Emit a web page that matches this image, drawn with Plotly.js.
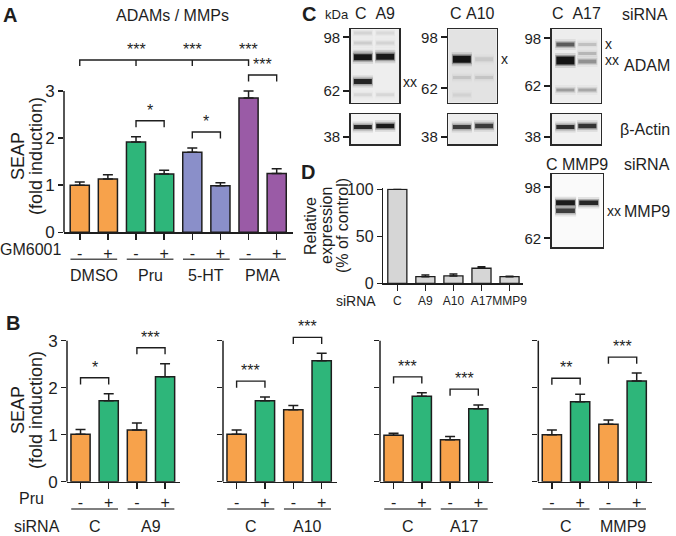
<!DOCTYPE html>
<html>
<head>
<meta charset="utf-8">
<script src="https://cdn.plot.ly/plotly-3.0.1.min.js"></script>
<style>
  body { margin: 0; background: #fff; }
  #chart { width: 676px; height: 536px; }
</style>
</head>
<body>
<div id="chart"></div>
<script>
// ---- Panel A: GM6001 inhibitor, SEAP fold induction ----
const gmSign = ['-', '+', '-', '+', '-', '+', '-', '+'];
const aGroups = ['DMSO', 'Pru', '5-HT', 'PMA'];
const aSeap = [1.00, 1.13, 1.92, 1.24, 1.70, 0.99, 2.85, 1.25];
const aErr = [0.07, 0.09, 0.11, 0.08, 0.09, 0.06, 0.15, 0.10];
const aPairStars = ['', '*', '*', '***'];       // within-group comparison
const aVsDmsoStars = ['', '***', '***', '***'];  // "-" bar vs DMSO "-"

// ---- Panel B: siRNA knock-down, Pru -/+ ----
const pruSign = ['-', '+', '-', '+'];
const bSiRNA = [['C', 'A9'], ['C', 'A10'], ['C', 'A17'], ['C', 'MMP9']];
const bSeap = [
  [1.01, 1.72, 1.10, 2.23],
  [1.01, 1.72, 1.53, 2.57],
  [0.99, 1.82, 0.89, 1.55],
  [1.00, 1.70, 1.22, 2.14]
];
const bErr = [
  [0.10, 0.15, 0.15, 0.28],
  [0.09, 0.08, 0.09, 0.16],
  [0.04, 0.07, 0.07, 0.08],
  [0.10, 0.16, 0.09, 0.17]
];
const bStars = [['*', '***'], ['***', '***'], ['***', '***'], ['**', '***']];

// ---- Panel D: relative expression after knock-down ----
const dSiRNA = ['C', 'A9', 'A10', 'A17', 'MMP9'];
const dExpr = [100, 7.0, 7.8, 16.0, 7.0];
const dErr = [0, 1.8, 2.0, 1.7, 0.4];

// ---- Panel C: western blot bands (lane index, kDa, darkness 0-1, thickness px) ----
const a9Lane = [0, 0, 0, 0, 0, 0, 1, 1, 1, 1, 1];
const a9Kda = [101.7, 93.3, 86.4, 82.6, 67.0, 59.8, 101.7, 93.3, 86.4, 83.0, 59.8];
const a9Tone = [0.08, 0.10, 0.07, 0.95, 0.85, 0.07, 0.06, 0.08, 0.06, 0.92, 0.07];
const a9Thick = [3, 3, 3, 6, 5, 3, 3, 3, 3, 6, 3];

const a10Lane = [0, 0, 0, 1, 1];
const a10Kda = [80.4, 68.4, 58.4, 80.4, 68.4];
const a10Tone = [0.97, 0.10, 0.05, 0.08, 0.10];
const a10Thick = [7, 3, 3, 4, 3];

const a17Lane = [0, 0, 0, 1, 1, 1, 1];
const a17Kda = [92.4, 79.2, 59.5, 92.4, 84.6, 78.4, 59.5];
const a17Tone = [0.55, 0.97, 0.28, 0.14, 0.18, 0.32, 0.24];
const a17Thick = [4, 8, 3, 3, 3, 4, 3];

const actinLane = [0, 1];
const actinKda = [42, 42.4];
const actin9Tone = [0.85, 0.92];
const actin10Tone = [0.72, 0.72];
const actin17Tone = [0.8, 0.76];
const actinThick = [4, 4.5];

const mmpLane = [0, 0, 1];
const mmpKda = [85.3, 79.4, 85.3];
const mmpTone = [0.92, 0.72, 0.85];
const mmpThick = [5, 4.5, 4.5];

// ---- page geometry helpers ----
const W = 676, H = 536;
const px = v => v / W;
const py = v => 1 - v / H;
const FONT = 'Liberation Sans, Arial, Helvetica, sans-serif';
const INK = '#1e1e1e';
const ORANGE = '#F7A24B';
const GREEN = '#2EB67A';
const groupColor = { DMSO: ORANGE, Pru: GREEN, '5-HT': '#8A8FC9', PMA: '#9A5BA6' };
const BAR_W = 0.68;

const traces = [];
const annotations = [];
const shapes = [];
const layout = {
  width: W, height: H,
  margin: { l: 0, r: 0, t: 0, b: 0 },
  paper_bgcolor: '#fff', plot_bgcolor: 'rgba(0,0,0,0)',
  font: { family: FONT, color: INK, size: 16 },
  showlegend: false,
  bargap: 0
};

function barAxes(n, xDom, yDom, xRange, yRange, tickText, showLabels) {
  const s = n === 1 ? '' : n;
  layout['xaxis' + s] = {
    domain: xDom, range: xRange, anchor: 'y' + s,
    tickvals: tickText.map((_, i) => i), ticktext: tickText, tickangle: 0,
    ticks: 'outside', ticklen: 6, tickwidth: 1.5, tickcolor: INK,
    showline: true, linewidth: 1.5, linecolor: INK,
    showgrid: false, zeroline: false, tickfont: { size: 16 }, fixedrange: true
  };
  layout['yaxis' + s] = {
    domain: yDom, range: yRange, anchor: 'x' + s,
    tickvals: [0, 1, 2, 3], showticklabels: showLabels,
    ticks: 'outside', ticklen: 5, tickwidth: 1.5, tickcolor: INK,
    showline: false, showgrid: false, zeroline: false,
    tickfont: { size: 17 }, fixedrange: true
  };
  // y axis line only from 0 to 3, like the original
  shapes.push({ type: 'line', xref: 'x' + s + ' domain', yref: 'y' + s, x0: 0, x1: 0, y0: 0, y1: 3,
    line: { color: INK, width: 1.5 } });
}

function bracket(s, i, j, low, high) {
  traces.push({ type: 'scatter', mode: 'lines', xaxis: 'x' + s, yaxis: 'y' + s,
    x: [i, i, j, j], y: [low, high, high, low],
    line: { color: INK, width: 1.4 }, hoverinfo: 'skip' });
}

function stars(s, x, y, text) {
  annotations.push({ xref: 'x' + s, yref: 'y' + s, x: x, y: y, text: text, showarrow: false,
    xanchor: 'center', yanchor: 'bottom', font: { size: 16 } });
}

function bars(s, values, errs, colors, lineW) {
  traces.push({
    type: 'bar', xaxis: 'x' + s, yaxis: 'y' + s,
    x: values.map((_, i) => i), y: values, width: BAR_W,
    marker: { color: colors, line: { color: INK, width: lineW } },
    error_y: { type: 'data', symmetric: false, array: errs, arrayminus: errs.map(() => 0),
      color: INK, thickness: 1.5, width: 5 },
    hoverinfo: 'skip'
  });
}

function groupLabels(s, names, lineY, labelY) {
  names.forEach((name, g) => {
    shapes.push({ type: 'line', xref: 'x' + s, yref: 'paper',
      x0: 2 * g - 0.33, x1: 2 * g + 1.33, y0: py(lineY), y1: py(lineY),
      line: { color: '#555', width: 1.5 } });
    annotations.push({ xref: 'x' + s, yref: 'paper', x: 2 * g + 0.5, y: py(labelY),
      xanchor: 'center', yanchor: 'middle', text: name, showarrow: false, font: { size: 16 } });
  });
}

// ================= Panel A =================
barAxes(1, [px(64), px(293)], [py(232.3), py(55.7)], [-0.56, 7.58], [0, 3.75], gmSign, true);
bars('', aSeap, aErr, aSeap.map((_, i) => groupColor[aGroups[Math.floor(i / 2)]]), 1.5);
const aTop = aSeap.map((v, i) => v + aErr[i]);
aGroups.forEach((g, k) => {
  if (!aPairStars[k]) return;
  const i = 2 * k, j = 2 * k + 1;
  const low = Math.max(aTop[i], aTop[j]) + 0.2;
  bracket('', i, j, low, low + 0.14);
  stars('', i + 0.5, low + 0.14, aPairStars[k]);
});
// comparison of every "-" bar with DMSO "-"
const aLevel = 3.66;
traces.push({ type: 'scatter', mode: 'lines', xaxis: 'x', yaxis: 'y',
  x: [0, 0, 6, 6, null, 2, 2, null, 4, 4],
  y: [aLevel - 0.13, aLevel, aLevel, aLevel - 0.13, null, aLevel, aLevel - 0.13, null, aLevel, aLevel - 0.13],
  line: { color: INK, width: 1.4 }, hoverinfo: 'skip' });
aVsDmsoStars.forEach((t, k) => { if (t) stars('', 2 * k, aLevel, t); });
groupLabels('', aGroups, 259.3, 275);

// ================= Panel B =================
const bX = [[67, 180], [223, 336.7], [380, 493.3], [538.3, 651.7]];
bSeap.forEach((vals, p) => {
  const n = p + 2, s = String(n);
  barAxes(n, [px(bX[p][0]), px(bX[p][1])], [py(481.7), py(324.2)], [-0.48, 3.53], [0, 3.35], pruSign, p === 0);
  bars(s, vals, bErr[p], vals.map((_, i) => (i % 2 ? GREEN : ORANGE)), 1.5);
  [0, 1].forEach(k => {
    const i = 2 * k, j = 2 * k + 1;
    const low = Math.max(vals[i] + bErr[p][i], vals[j] + bErr[p][j]) + 0.2;
    bracket(s, i, j, low, low + 0.14);
    stars(s, i + 0.5, low + 0.14, bStars[p][k]);
  });
  groupLabels(s, bSiRNA[p], 509, 526);
});

// ================= Panel D =================
layout.xaxis6 = {
  domain: [px(383.3), px(523)], range: [-0.5, 4.48], anchor: 'y6',
  tickvals: dSiRNA.map((_, i) => i), ticktext: dSiRNA, tickangle: 0,
  ticks: 'outside', ticklen: 6, tickwidth: 1.5, tickcolor: INK,
  showline: true, linewidth: 1.5, linecolor: INK, showgrid: false, zeroline: false,
  tickfont: { size: 12 }, fixedrange: true
};
layout.yaxis6 = {
  domain: [py(283.3), py(188.4)], range: [0, 101], anchor: 'x6',
  tickvals: [0, 50, 100], ticks: 'outside', ticklen: 5, tickwidth: 1.5, tickcolor: INK,
  showline: true, linewidth: 1.5, linecolor: INK, showgrid: false, zeroline: false,
  tickfont: { size: 16 }, fixedrange: true
};
traces.push({
  type: 'bar', xaxis: 'x6', yaxis: 'y6', x: dSiRNA.map((_, i) => i), y: dExpr, width: BAR_W,
  marker: { color: '#D6D6D6', line: { color: INK, width: 1.3 } },
  error_y: { type: 'data', symmetric: false, array: dErr, arrayminus: dErr.map(() => 0),
    color: INK, thickness: 1.5, width: 4 },
  hoverinfo: 'skip'
});

// ================= Panel C: blots =================
function blot(n, xDom, yDom, kdaRange, laneX, lane, kda, tone, thick, bg, kdaTicks) {
  layout['xaxis' + n] = {
    domain: [px(xDom[0]), px(xDom[1])], range: [0, 2], anchor: 'y' + n,
    showline: true, mirror: true, linewidth: 1.5, linecolor: '#2a2a2a',
    ticks: '', showticklabels: false, showgrid: false, zeroline: false, fixedrange: true
  };
  layout['yaxis' + n] = {
    domain: [py(yDom[1]), py(yDom[0])], type: 'log', anchor: 'x' + n,
    range: [Math.log10(kdaRange[0]), Math.log10(kdaRange[1])],
    tickvals: kdaTicks, ticktext: kdaTicks.map(String),
    ticks: 'outside', ticklen: 6, tickwidth: 2, tickcolor: INK,
    showline: true, mirror: true, linewidth: 1.5, linecolor: '#2a2a2a',
    showgrid: false, zeroline: false, tickfont: { size: 15 }, fixedrange: true
  };
  shapes.push({ type: 'rect', xref: 'x' + n + ' domain', yref: 'y' + n + ' domain',
    x0: 0, x1: 1, y0: 0, y1: 1, fillcolor: bg, line: { width: 0 }, layer: 'below' });
  kda.forEach((k, i) => {
    const c = laneX[lane[i]];
    // soft halo layers, then the dense core of the band
    [[thick[i] + 7, tone[i] * 0.12, 0.42], [thick[i] + 3, tone[i] * 0.3, 0.41], [thick[i], tone[i], 0.37]]
      .forEach(([w, a, hw]) => {
        traces.push({ type: 'scatter', mode: 'lines', xaxis: 'x' + n, yaxis: 'y' + n,
          x: [c - hw, c + hw], y: [k, k],
          line: { color: 'rgba(15,15,15,' + a.toFixed(3) + ')', width: w }, hoverinfo: 'skip' });
      });
  });
}

blot(7, [350.7, 399.3], [29.3, 102.7], [55.9, 105], [0.5, 1.42], a9Lane, a9Kda, a9Tone, a9Thick, '#eeeeee', [62, 98]);
blot(8, [448.3, 496.7], [29.3, 102.7], [54.5, 105.3], [0.56, 1.48], a10Lane, a10Kda, a10Tone, a10Thick, '#e3e3e3', [62, 98]);
blot(9, [551.7, 600.5], [29.3, 102.7], [52.6, 107], [0.56, 1.46], a17Lane, a17Kda, a17Tone, a17Thick, '#ededed', [62, 98]);
blot(10, [350.7, 399.3], [114, 144], [35.4, 47.8], [0.5, 1.42], actinLane, actinKda, actin9Tone, actinThick, '#f3f3f3', [38]);
blot(11, [448.3, 496.7], [114, 144], [35.4, 47.8], [0.56, 1.48], actinLane, actinKda, actin10Tone, actinThick, '#ececec', [38]);
blot(12, [551.7, 600.5], [114, 144], [35.4, 47.8], [0.56, 1.46], actinLane, actinKda, actin17Tone, actinThick, '#f1f1f1', [38]);
blot(13, [551.7, 602.7], [174, 247.3], [57.2, 110.4], [0.54, 1.45], mmpLane, mmpKda, mmpTone, mmpThick, '#fafafa', [62, 98]);

function blotMark(n, kda, text) {
  annotations.push({ xref: 'x' + n + ' domain', yref: 'y' + n, x: 1, y: Math.log10(kda), text: text,
    showarrow: false, xanchor: 'left', yanchor: 'middle', xshift: 2, font: { size: 14 } });
}
blotMark(7, a9Kda[4], 'xx');
blotMark(8, a10Kda[0], 'x');
blotMark(9, a17Kda[0], 'x');
blotMark(9, a17Kda[1], 'xx');
blotMark(13, mmpKda[1], 'xx');

function laneHeader(n, text) {
  annotations.push({ xref: 'x' + n + ' domain', yref: 'paper', x: 0.5, y: py(n === 13 ? 165 : 13.5),
    xanchor: 'center', yanchor: 'middle', text: text, showarrow: false, font: { size: 16 } });
}
const sp = '\u00a0';
laneHeader(7, 'C' + sp + sp + 'A9');
laneHeader(8, 'C' + sp + 'A10');
laneHeader(9, 'C' + sp + sp + 'A17');
laneHeader(13, 'C' + sp + 'MMP9');

// ================= free text =================
function label(x, y, text, opts) {
  annotations.push(Object.assign({ xref: 'paper', yref: 'paper', x: px(x), y: py(y), text: text,
    xanchor: 'center', yanchor: 'middle', showarrow: false, font: { size: 16 } }, opts || {}));
}
label(10, 15, '<b>A</b>', { font: { size: 20 } });
label(13, 323, '<b>B</b>', { font: { size: 20 } });
label(309, 14, '<b>C</b>', { font: { size: 20 } });
label(308, 172, '<b>D</b>', { font: { size: 20 } });
label(172, 15, 'ADAMs / MMPs');
label(63, 249, 'GM6001', { xanchor: 'right' });
label(18, 156, 'SEAP', { textangle: -90, font: { size: 18 } });
label(36, 156, '(fold induction)', { textangle: -90, font: { size: 18 } });
label(46, 498, 'Pru', { xanchor: 'right' });
label(62, 526, 'siRNA', { xanchor: 'right' });
label(18, 410, 'SEAP', { textangle: -90, font: { size: 18 } });
label(36, 410, '(fold induction)', { textangle: -90, font: { size: 18 } });
label(311, 226, 'Relative', { textangle: -90 });
label(327, 226, 'expression', { textangle: -90 });
label(343, 226, '(% of control)', { textangle: -90 });
label(378, 301, 'siRNA', { xanchor: 'right', font: { size: 14 } });
label(337, 14, 'kDa', { font: { size: 13 } });
label(645, 14, 'siRNA');
label(647, 65, 'ADAM');
label(645, 129, '\u03b2-Actin');
label(647, 165, 'siRNA');
label(647, 212, 'MMP9');

layout.annotations = annotations;
layout.shapes = shapes;

Plotly.newPlot('chart', traces, layout, { displayModeBar: false, staticPlot: true });
</script>
</body>
</html>
